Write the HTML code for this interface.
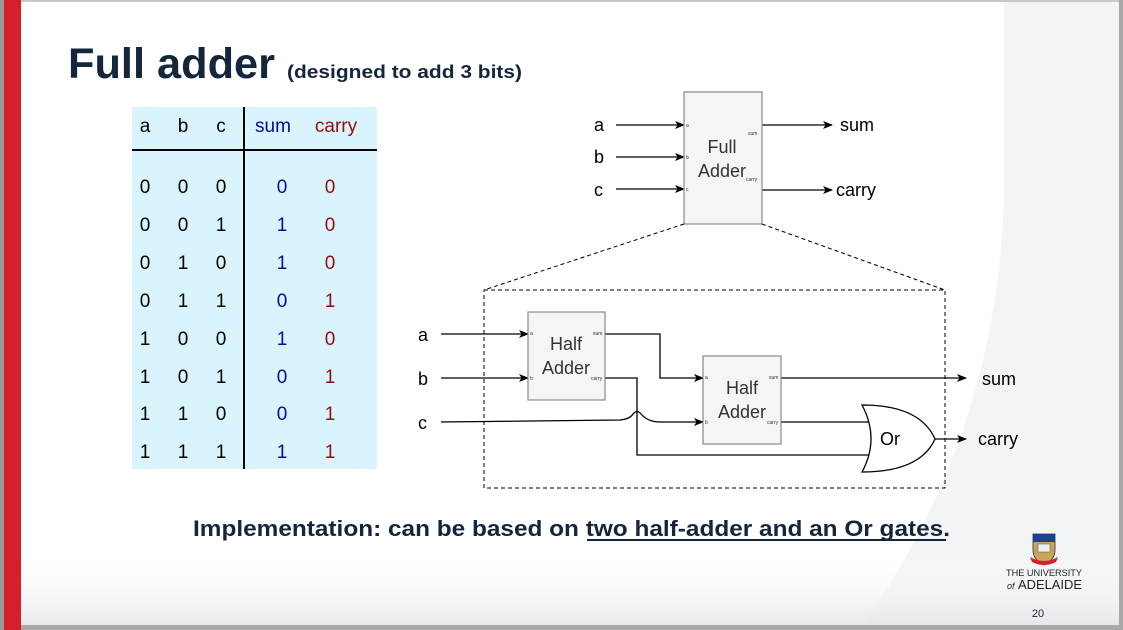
<!DOCTYPE html>
<html><head><meta charset="utf-8"><style>
html,body{margin:0;padding:0;width:1123px;height:630px;overflow:hidden;background:#fff}
svg{display:block}
text{font-family:"Liberation Sans",Arial,sans-serif}
</style></head><body>
<svg width="1123" height="630" viewBox="0 0 1123 630" xmlns="http://www.w3.org/2000/svg">
<defs>
<linearGradient id="bg" x1="0" y1="0" x2="0" y2="1">
<stop offset="0.88" stop-color="#fff" stop-opacity="0"/><stop offset="1" stop-color="#e4e5e8"/>
</linearGradient>
<marker id="ar" markerWidth="10" markerHeight="8" refX="9" refY="4" orient="auto" markerUnits="userSpaceOnUse">
<path d="M0,0 L10,4 L0,8 L2.5,4 Z" fill="#000"/></marker>
</defs>
<rect width="1123" height="630" fill="#f3f4f6"/>
<path d="M0,0 H1004 V190 Q1000 430 860 630 H0 Z" fill="#fff"/>
<rect width="1123" height="630" fill="url(#bg)"/>
<rect x="0" y="0" width="1123" height="2" fill="#c8c8c8"/>
<rect x="0" y="625" width="1123" height="5" fill="#a9a9a9"/>
<rect x="1119" y="0" width="4" height="630" fill="#a9a9a9"/>
<rect x="0" y="0" width="4" height="630" fill="#9a9a9a"/>
<rect x="4" y="0" width="17" height="630" fill="#d4202a"/>

<text x="68" y="78" font-size="43" font-weight="bold" fill="#14263c" textLength="207" lengthAdjust="spacingAndGlyphs">Full adder</text>
<text x="287" y="78" font-size="18" font-weight="bold" fill="#14263c" textLength="235" lengthAdjust="spacingAndGlyphs">(designed to add 3 bits)</text>

<rect x="132" y="107" width="245" height="362" fill="#d9f4fd"/>
<line x1="244" y1="107" x2="244" y2="469" stroke="#000" stroke-width="2"/>
<line x1="132" y1="150" x2="377" y2="150" stroke="#000" stroke-width="2"/>
<g font-size="19" text-anchor="middle">
<text x="145" y="132">a</text><text x="183" y="132">b</text><text x="221" y="132">c</text>
<text x="273" y="132" fill="#0a0a9a">sum</text><text x="336" y="132" fill="#9a0a0a">carry</text>
</g>
<g font-size="19" text-anchor="middle">
<g transform="translate(0,193)"><text x="145">0</text><text x="183">0</text><text x="221">0</text><text x="282" fill="#0a0a9a">0</text><text x="330" fill="#9a0a0a">0</text></g>
<g transform="translate(0,231)"><text x="145">0</text><text x="183">0</text><text x="221">1</text><text x="282" fill="#0a0a9a">1</text><text x="330" fill="#9a0a0a">0</text></g>
<g transform="translate(0,269)"><text x="145">0</text><text x="183">1</text><text x="221">0</text><text x="282" fill="#0a0a9a">1</text><text x="330" fill="#9a0a0a">0</text></g>
<g transform="translate(0,307)"><text x="145">0</text><text x="183">1</text><text x="221">1</text><text x="282" fill="#0a0a9a">0</text><text x="330" fill="#9a0a0a">1</text></g>
<g transform="translate(0,345)"><text x="145">1</text><text x="183">0</text><text x="221">0</text><text x="282" fill="#0a0a9a">1</text><text x="330" fill="#9a0a0a">0</text></g>
<g transform="translate(0,383)"><text x="145">1</text><text x="183">0</text><text x="221">1</text><text x="282" fill="#0a0a9a">0</text><text x="330" fill="#9a0a0a">1</text></g>
<g transform="translate(0,420)"><text x="145">1</text><text x="183">1</text><text x="221">0</text><text x="282" fill="#0a0a9a">0</text><text x="330" fill="#9a0a0a">1</text></g>
<g transform="translate(0,458)"><text x="145">1</text><text x="183">1</text><text x="221">1</text><text x="282" fill="#0a0a9a">1</text><text x="330" fill="#9a0a0a">1</text></g>
</g>

<!-- Full adder -->
<g stroke="#000" stroke-width="1.3" fill="none">
<line x1="616" y1="125" x2="684" y2="125" marker-end="url(#ar)"/>
<line x1="616" y1="157" x2="684" y2="157" marker-end="url(#ar)"/>
<line x1="616" y1="189" x2="684" y2="189" marker-end="url(#ar)"/>
<line x1="762" y1="125" x2="832" y2="125" marker-end="url(#ar)"/>
<line x1="762" y1="190" x2="832" y2="190" marker-end="url(#ar)"/>
</g>
<rect x="684" y="92" width="78" height="132" fill="#f5f5f5" stroke="#888" stroke-width="1.2"/>
<text x="722" y="153" font-size="18" text-anchor="middle" fill="#333">Full</text>
<text x="722" y="177" font-size="18" text-anchor="middle" fill="#333">Adder</text>
<g font-size="5" fill="#333"><text x="686" y="127">a</text><text x="686" y="159">b</text><text x="686" y="191">c</text><text x="748" y="135">sum</text><text x="746" y="181">carry</text></g>
<g font-size="18"><text x="594" y="131">a</text><text x="594" y="163">b</text><text x="594" y="196">c</text><text x="840" y="131">sum</text><text x="836" y="196">carry</text></g>

<g stroke="#000" stroke-width="1" stroke-dasharray="4,3" fill="none">
<line x1="684" y1="224" x2="484" y2="290"/><line x1="762" y1="224" x2="945" y2="290"/>
<rect x="484" y="290" width="461" height="198"/>
</g>

<!-- internal -->
<g stroke="#000" stroke-width="1.3" fill="none">
<line x1="441" y1="334" x2="528" y2="334" marker-end="url(#ar)"/>
<line x1="441" y1="378" x2="528" y2="378" marker-end="url(#ar)"/>
<path d="M441,422 L620,420 Q630,419 633,414 Q637,409 641,414 Q648,422 660,422 L703,422" marker-end="url(#ar)"/>
<path d="M605,334 H660 V378 H703" marker-end="url(#ar)"/>
<path d="M605,378 H637 V455 H870"/>
<line x1="781" y1="378" x2="966" y2="378" marker-end="url(#ar)"/>
<line x1="781" y1="422" x2="870" y2="422"/>
<line x1="935" y1="439" x2="966" y2="439" marker-end="url(#ar)"/>
</g>
<rect x="528" y="312" width="77" height="88" fill="#f5f5f5" stroke="#888" stroke-width="1.2"/>
<text x="566" y="350" font-size="18" text-anchor="middle" fill="#333">Half</text>
<text x="566" y="374" font-size="18" text-anchor="middle" fill="#333">Adder</text>
<rect x="703" y="356" width="78" height="88" fill="#f5f5f5" stroke="#888" stroke-width="1.2"/>
<text x="742" y="394" font-size="18" text-anchor="middle" fill="#333">Half</text>
<text x="742" y="418" font-size="18" text-anchor="middle" fill="#333">Adder</text>
<g font-size="5" fill="#333">
<text x="530" y="335">a</text><text x="530" y="380">b</text><text x="593" y="335">sum</text><text x="591" y="380">carry</text>
<text x="705" y="379">a</text><text x="705" y="424">b</text><text x="769" y="379">sum</text><text x="767" y="424">carry</text>
<text x="874" y="422">a</text><text x="874" y="456">b</text>
</g>
<path d="M862,405 Q920,405 935,439 Q920,472 862,472 Q880,439 862,405 Z" fill="#fff" stroke="#000" stroke-width="1.3"/>
<text x="880" y="445" font-size="18" fill="#000">Or</text>
<g font-size="18"><text x="418" y="341">a</text><text x="418" y="385">b</text><text x="418" y="429">c</text><text x="982" y="385">sum</text><text x="978" y="445">carry</text></g>

<text x="193" y="536" font-size="22" font-weight="bold" fill="#14263c" textLength="757" lengthAdjust="spacingAndGlyphs">Implementation: can be based on two half-adder and an Or gates.</text>
<line x1="587" y1="540" x2="946" y2="540" stroke="#14263c" stroke-width="2"/>

<!-- logo -->
<path d="M1033,534 H1055 V550 Q1055,560 1044,565 Q1033,560 1033,550 Z" fill="#c9a55a" stroke="#333" stroke-width="0.8"/>
<rect x="1033" y="534" width="22" height="8" fill="#1f3f8f"/>
<rect x="1038" y="544" width="12" height="8" fill="#eee" stroke="#555" stroke-width="0.5"/>
<path d="M1030,557 Q1044,565 1058,557 L1056,562 Q1044,568 1032,562 Z" fill="#d4202a"/>
<text x="1044" y="576" font-size="9" text-anchor="middle" font-family="Liberation Serif,serif" fill="#222" textLength="76" lengthAdjust="spacingAndGlyphs">THE UNIVERSITY</text>
<text x="1007" y="589" font-size="9" font-style="italic" font-family="Liberation Serif,serif" fill="#222">of</text>
<text x="1018" y="589" font-size="13" font-family="Liberation Sans,sans-serif" fill="#222" textLength="64" lengthAdjust="spacingAndGlyphs">ADELAIDE</text>
<text x="1038" y="617" font-size="11" text-anchor="middle" fill="#14263c">20</text>
</svg>
</body></html>
